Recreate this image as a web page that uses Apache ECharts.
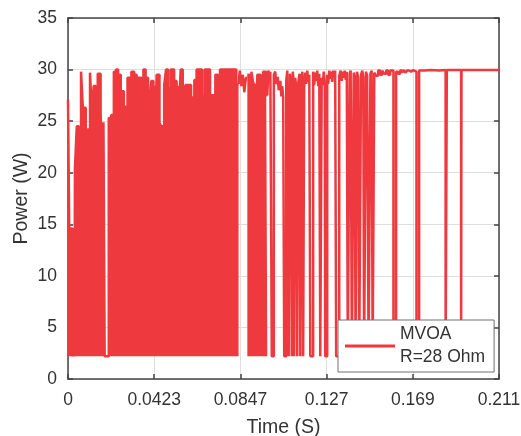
<!DOCTYPE html>
<html>
<head>
<meta charset="utf-8">
<script src="https://cdn.jsdelivr.net/npm/echarts@6/dist/echarts.min.js"></script>
<style>
  html, body { margin: 0; padding: 0; background: #ffffff; }
  #chart { width: 521px; height: 436px; }
</style>
</head>
<body>
<div id="chart"></div>
<script>
// MVOA tracking of PV output power into a 28 Ohm load.

// Axis ticks
const xTickLabels = ['0', '0.0423', '0.0847', '0.127', '0.169', '0.211'];
const xStep = 0.0423;
const xMax = 0.2115;
const yMax = 35;
const yStep = 5;

// Legend text
const methodName = 'MVOA';
const loadLabel = 'R=28 Ohm';

// Lowest power the converter falls to while searching (W)
const floorPower = 2.2;

// Exploration phase: the duty cycle toggles so fast that each stretch reads as a
// solid band from the floor up to its peak. Time (s) where each stretch starts,
// and its peak power (W). null closes a run.
const burstTime = [
  0.0000, 0.0006, 0.0022, 0.0029, 0.0032, 0.0034, 0.0043, 0.0053, 0.0064, 0.0073,
  0.0087, 0.0108, 0.0117, 0.0126, 0.0136, 0.0146, 0.0160, 0.0169, 0.0174, 0.0180,
  0.0200, 0.0212, 0.0225, 0.0236, 0.0246, 0.0259, 0.0274, 0.0278, 0.0292, 0.0311,
  0.0325, 0.0337, 0.0360, 0.0370, 0.0381, 0.0393, 0.0400, 0.0409, 0.0419, 0.0429,
  0.0435, 0.0449, 0.0458, 0.0472, 0.0481, 0.0491, 0.0504, 0.0521, 0.0533, 0.0544,
  0.0553, 0.0563, 0.0576, 0.0604, 0.0620, 0.0631, 0.0658, 0.0671, 0.0697, 0.0710,
  0.0723, 0.0736, 0.0746, 0.0826, 0.0837, 0.0837, 0.0880, 0.0890, 0.0900, 0.0908,
  0.0914, 0.0926, 0.0929, 0.0945, 0.0957, 0.0973, 0.0978
];
const burstPower = [
  27.1, 14.6, 2.2, 4.0, 2.2, 20.4, 24.5, 23.5, 29.8, 26.3,
  24.2, 29.7, 25.8, 28.4, 25.6, 29.6, 25.8, 19.9, 24.9, 2.2,
  25.3, 25.6, 29.8, 30.0, 29.5, 27.9, 20.1, 26.4, 29.2, 29.8,
  29.5, 29.2, 23.8, 30.0, 29.2, 23.7, 26.6, 28.9, 28.3, 24.8,
  29.5, 24.8, 24.5, 28.5, 30.0, 28.2, 30.0, 28.9, 28.3, 26.1,
  30.0, 28.3, 28.5, 27.3, 29.0, 30.0, 27.4, 30.0, 27.5, 27.6,
  29.5, 29.3, 30.0, 28.6, 28.6, null, 29.5, 28.2, 29.8, 28.8,
  28.5, 27.4, 29.5, 29.2, 29.8, 27.5, 27.5
];

// Settling phase: power held near the maximum with occasional drops.
// Time (s) where each level starts, and that level (W).
const trackTime = [
  0.0837, 0.0843, 0.0851, 0.0858, 0.0865, 0.0873, 0.0880, 0.0880,
  0.0978, 0.0983, 0.0988, 0.0993, 0.1000, 0.1010, 0.1017, 0.1022, 0.1029, 0.1034,
  0.1042, 0.1047, 0.1051, 0.1056, 0.1061, 0.1071, 0.1076, 0.1083, 0.1089, 0.1095,
  0.1098, 0.1103, 0.1108, 0.1110, 0.1115, 0.1120, 0.1125, 0.1130, 0.1136, 0.1140,
  0.1145, 0.1150, 0.1154, 0.1159, 0.1164, 0.1169, 0.1174, 0.1179, 0.1184, 0.1189,
  0.1203, 0.1208, 0.1213, 0.1218, 0.1223, 0.1228, 0.1233, 0.1238, 0.1245, 0.1250,
  0.1255, 0.1260, 0.1262, 0.1272, 0.1277, 0.1282, 0.1287, 0.1292, 0.1297, 0.1301,
  0.1306, 0.1311, 0.1316, 0.1331, 0.1338, 0.1343, 0.1348, 0.1353, 0.1358, 0.1363,
  0.1368, 0.1373, 0.1382, 0.1387, 0.1393, 0.1402, 0.1407, 0.1411, 0.1418, 0.1424,
  0.1429, 0.1438, 0.1444, 0.1449, 0.1453, 0.1462, 0.1468, 0.1475, 0.1484, 0.1490,
  0.1495, 0.1503, 0.1512, 0.1522, 0.1532, 0.1542, 0.1551, 0.1561, 0.1571, 0.1581,
  0.1597, 0.1610, 0.1620, 0.1630, 0.1640, 0.1648, 0.1656, 0.1664, 0.1674, 0.1684,
  0.1694, 0.1710, 0.1723, 0.1750, 0.1782, 0.1821, 0.1853, 0.1859, 0.1929, 0.1931,
  0.2115
];
const trackPower = [
  28.6, 29.9, 28.4, 29.5, 27.8, 29.2, 29.2, null,
  27.5, 29.9, 29.4, 29.8, 2.2, 29.5, 29.8, 28.6, 29.3, 28.0,
  28.9, 27.4, 28.4, 27.3, 2.2, 28.9, 29.9, 2.2, 29.6, 28.5,
  2.2, 29.8, 28.8, 2.2, 29.2, 28.3, 2.2, 28.7, 29.6, 2.2,
  28.9, 29.8, 2.2, 28.4, 29.7, 28.6, 29.9, 28.8, 29.5, 2.2,
  29.8, 28.5, 29.7, 28.9, 29.9, 28.4, 29.6, 2.2, 29.2, 28.5,
  29.8, 28.7, 2.2, 29.5, 28.6, 29.9, 29.1, 29.8, 28.8, 29.9,
  29.3, 29.9, 2.2, 29.4, 29.9, 28.9, 29.8, 29.2, 29.9, 29.0,
  29.8, 2.2, 29.6, 29.9, 2.2, 29.7, 29.3, 2.2, 29.8, 29.2,
  2.2, 29.5, 29.9, 29.3, 2.2, 29.8, 29.4, 2.2, 29.6, 29.9,
  2.2, 29.7, 29.4, 29.9, 29.5, 29.9, 29.6, 29.9, 29.5, 29.9,
  2.2, 29.8, 29.6, 29.9, 29.7, 29.95, 29.7, 29.9, 29.8, 29.95,
  29.8, 2.2, 29.9, 29.95, 29.9, 29.95, 2.2, 29.95, 2.2, 29.95,
  29.95
];

const RED = '#ee3a3f';
const INK = '#333333';
const AXIS = '#444444';
const GRID = '#dedede';
const FONT = '"Liberation Sans", Arial, Helvetica, sans-serif';

const pairs = (ts, ps) => ts.map((t, i) => [t, ps[i] === null ? '-' : ps[i]]);

const chart = echarts.init(document.getElementById('chart'), null, { renderer: 'canvas' });

const frameAxis = {
  axisLine: { show: true, onZero: false, lineStyle: { color: AXIS, width: 1.5 } },
  axisTick: { show: true, inside: true, length: 5, lineStyle: { color: AXIS, width: 1.5 } }
};

chart.setOption({
  animation: false,
  backgroundColor: '#ffffff',
  grid: { left: 68, right: 22, top: 18, bottom: 57, containLabel: false, outerBoundsMode: 'none' },
  legend: {
    data: [methodName],
    left: 338,
    top: 320,
    orient: 'vertical',
    icon: 'rect',
    itemWidth: 50,
    itemHeight: 3,
    padding: [3, 9, 3, 7],
    backgroundColor: '#ffffff',
    borderColor: '#707070',
    borderWidth: 1,
    borderRadius: 0,
    selectedMode: false,
    formatter: (name) => name + '\n' + loadLabel,
    textStyle: { fontFamily: FONT, fontSize: 17.5, lineHeight: 23, color: INK }
  },
  xAxis: [
    Object.assign({
      type: 'value', min: 0, max: xMax, interval: xStep,
      axisLabel: {
        margin: 12, color: INK, fontFamily: FONT, fontSize: 17.5,
        formatter: (v) => xTickLabels[Math.round(v / xStep)]
      },
      splitLine: { show: true, lineStyle: { color: GRID, width: 1 } },
      name: 'Time (S)', nameLocation: 'middle', nameGap: 39,
      nameTextStyle: { fontFamily: FONT, fontSize: 19.5, color: INK }
    }, frameAxis),
    Object.assign({
      type: 'value', position: 'top', min: 0, max: xMax, interval: xStep,
      axisLabel: { show: false }, splitLine: { show: false }
    }, frameAxis)
  ],
  yAxis: [
    Object.assign({
      type: 'value', min: 0, max: yMax, interval: yStep,
      axisLabel: { margin: 11, color: INK, fontFamily: FONT, fontSize: 17.5 },
      splitLine: { show: true, lineStyle: { color: GRID, width: 1 } },
      name: 'Power (W)', nameLocation: 'middle', nameGap: 36, nameRotate: 90,
      nameMoveOverlap: false,
      nameTextStyle: { fontFamily: FONT, fontSize: 19.5, color: INK }
    }, frameAxis),
    Object.assign({
      type: 'value', position: 'right', min: 0, max: yMax, interval: yStep,
      axisLabel: { show: false }, splitLine: { show: false }
    }, frameAxis)
  ],
  series: [
    {
      name: methodName, type: 'line', step: 'end',
      xAxisIndex: 0, yAxisIndex: 0,
      data: pairs(burstTime, burstPower),
      symbol: 'none', showSymbol: false, connectNulls: false,
      color: RED,
      lineStyle: { color: RED, width: 2.5 },
      areaStyle: { color: RED, opacity: 1, origin: floorPower }
    },
    {
      name: methodName, type: 'line', step: 'end',
      xAxisIndex: 0, yAxisIndex: 0,
      data: pairs(trackTime, trackPower),
      symbol: 'none', showSymbol: false, connectNulls: false,
      color: RED,
      lineStyle: { color: RED, width: 2.5 }
    }
  ]
});
</script>
</body>
</html>
